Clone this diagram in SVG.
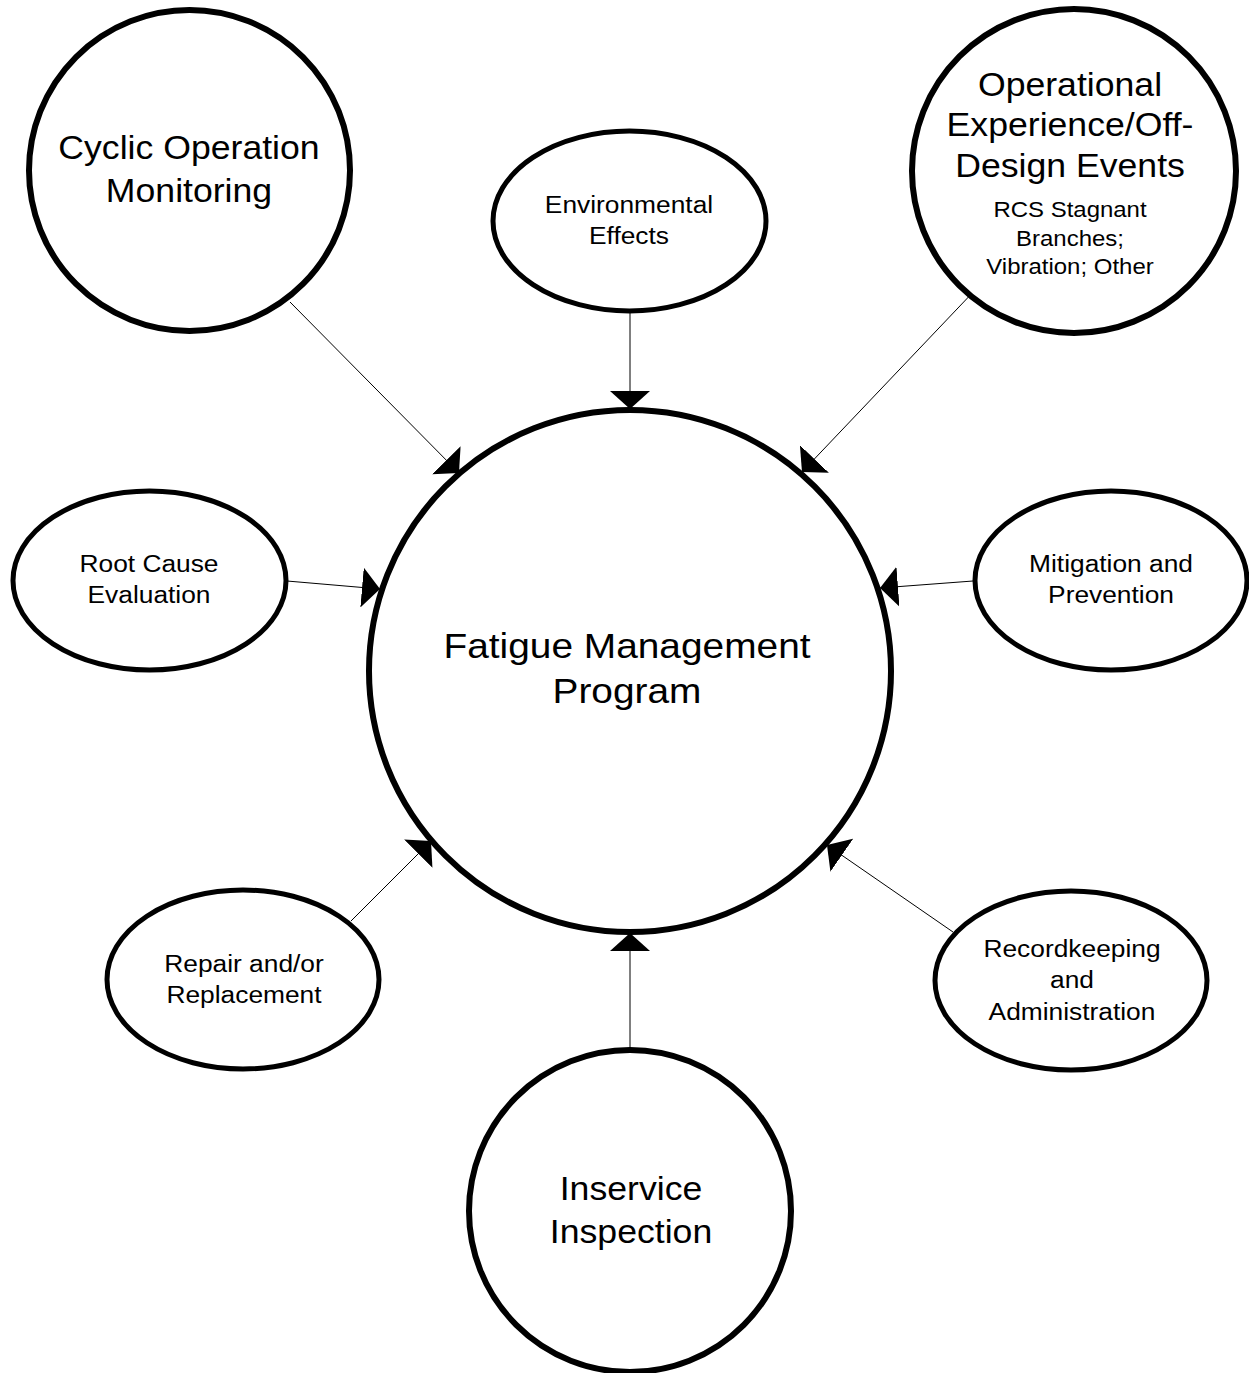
<svg xmlns="http://www.w3.org/2000/svg" width="1249" height="1373" viewBox="0 0 1249 1373">
<defs>
<style>
.big{fill:#fff;stroke:#000;stroke-width:6}
.ell{fill:#fff;stroke:#000;stroke-width:5}
.conn{stroke:#000;stroke-width:1;fill:none}
text{font-family:"Liberation Sans",Arial,sans-serif;fill:#000;text-anchor:middle}
.t-main{font-size:35px}
.t-big{font-size:33px}
.t-ell{font-size:24.5px}
.t-small{font-size:22px}
</style>
<marker id="ah" viewBox="0 0 18 40" refX="18" refY="20" markerWidth="18" markerHeight="40" markerUnits="userSpaceOnUse" orient="auto">
<path d="M0,0 L18,20 L0,40 Z" fill="#000"/>
</marker>
</defs>
<rect width="1249" height="1373" fill="#fff"/>
<g id="connectors">
<line class="conn" x1="290" y1="302" x2="459" y2="473" marker-end="url(#ah)"/>
<line class="conn" x1="630" y1="312" x2="630" y2="409" marker-end="url(#ah)"/>
<line class="conn" x1="977" y1="288" x2="802" y2="472" marker-end="url(#ah)"/>
<line class="conn" x1="287" y1="581" x2="380" y2="589" marker-end="url(#ah)"/>
<line class="conn" x1="973" y1="581" x2="880" y2="588" marker-end="url(#ah)"/>
<line class="conn" x1="351" y1="921" x2="431" y2="841" marker-end="url(#ah)"/>
<line class="conn" x1="953" y1="932" x2="827" y2="845" marker-end="url(#ah)"/>
<line class="conn" x1="630" y1="1049" x2="630" y2="933" marker-end="url(#ah)"/>
</g>
<g id="fatigue-management-program">
<circle class="big" cx="630" cy="671" r="261" fill-opacity="0"/>
<text class="t-main" transform="translate(627 0) scale(1.11 1)"><tspan x="0" y="658">Fatigue Management</tspan><tspan x="0" y="703">Program</tspan></text>
</g>
<g id="cyclic-operation-monitoring">
<circle class="big" cx="189.5" cy="170.5" r="160.5"/>
<text class="t-big" transform="translate(189 0) scale(1.08 1)"><tspan x="0" y="159">Cyclic Operation</tspan><tspan x="0" y="202">Monitoring</tspan></text>
</g>
<g id="environmental-effects">
<ellipse class="ell" cx="629.5" cy="221" rx="136.5" ry="90"/>
<text class="t-ell" transform="translate(629 0) scale(1.075 1)"><tspan x="0" y="213">Environmental</tspan><tspan x="0" y="244">Effects</tspan></text>
</g>
<g id="operational-experience">
<circle class="big" cx="1074" cy="171" r="162"/>
<text class="t-big" transform="translate(1070 0) scale(1.08 1)"><tspan x="0" y="96">Operational</tspan><tspan x="0" y="136">Experience/Off-</tspan><tspan x="0" y="177">Design Events</tspan></text>
<text class="t-small" transform="translate(1070 0) scale(1.09 1)"><tspan x="0" y="217">RCS Stagnant</tspan><tspan x="0" y="246">Branches;</tspan><tspan x="0" y="274">Vibration; Other</tspan></text>
</g>
<g id="root-cause-evaluation">
<ellipse class="ell" cx="149.5" cy="580.5" rx="136.5" ry="89.5"/>
<text class="t-ell" transform="translate(149 0) scale(1.075 1)"><tspan x="0" y="572">Root Cause</tspan><tspan x="0" y="603">Evaluation</tspan></text>
</g>
<g id="mitigation-and-prevention">
<ellipse class="ell" cx="1111" cy="580.5" rx="136" ry="89.5"/>
<text class="t-ell" transform="translate(1111 0) scale(1.075 1)"><tspan x="0" y="572">Mitigation and</tspan><tspan x="0" y="603">Prevention</tspan></text>
</g>
<g id="repair-replacement">
<ellipse class="ell" cx="243" cy="979.5" rx="136" ry="89.5"/>
<text class="t-ell" transform="translate(244 0) scale(1.075 1)"><tspan x="0" y="972">Repair and/or</tspan><tspan x="0" y="1003">Replacement</tspan></text>
</g>
<g id="recordkeeping-administration">
<ellipse class="ell" cx="1071" cy="980.5" rx="136" ry="89.5"/>
<text class="t-ell" transform="translate(1072 0) scale(1.075 1)"><tspan x="0" y="957">Recordkeeping</tspan><tspan x="0" y="988">and</tspan><tspan x="0" y="1020">Administration</tspan></text>
</g>
<g id="inservice-inspection">
<circle class="big" cx="630" cy="1211" r="161"/>
<text class="t-big" transform="translate(631 0) scale(1.08 1)"><tspan x="0" y="1200">Inservice</tspan><tspan x="0" y="1243">Inspection</tspan></text>
</g>
</svg>
